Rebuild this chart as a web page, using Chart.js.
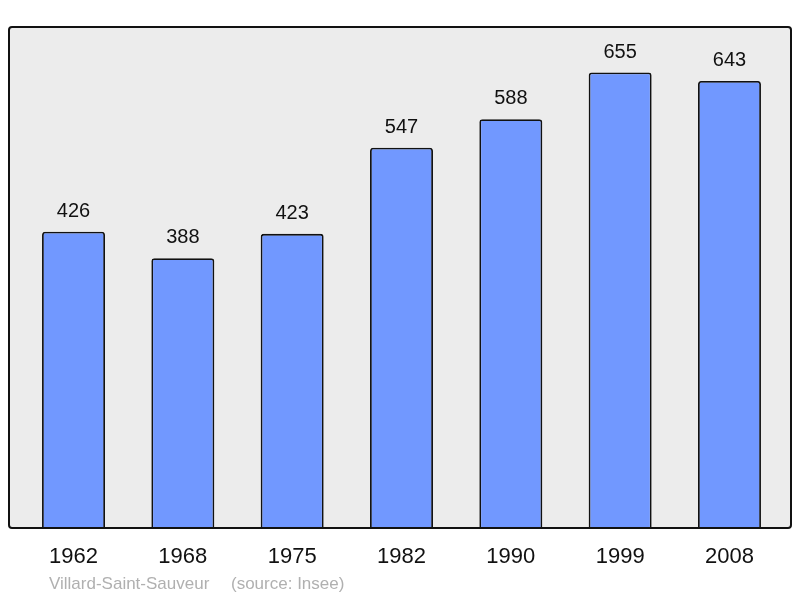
<!DOCTYPE html>
<html>
<head>
<meta charset="utf-8">
<script src="https://cdn.jsdelivr.net/npm/chart.js@4/dist/chart.umd.min.js"></script>
<style>
  html, body { margin: 0; padding: 0; background: #fff; }
  #wrap { width: 800px; height: 598px; }
</style>
</head>
<body>
<div id="wrap"><canvas id="chart" width="800" height="598"></canvas></div>
<script>
// Population per census year (Villard-Saint-Sauveur, Insee)
const years = ['1962', '1968', '1975', '1982', '1990', '1999', '2008'];
const population = [426, 388, 423, 547, 588, 655, 643];
const placeName = 'Villard-Saint-Sauveur';
const sourceNote = '(source: Insee)';

const FONT = '"Liberation Sans", Arial, sans-serif';

// grey framed panel behind the bars, plus labels drawn with the scales
const panelPlugin = {
    id: 'panel',
    beforeDraw(chart) {
        const ctx = chart.ctx;
        ctx.save();
        ctx.beginPath();
        ctx.roundRect(9, 27, 782, 501, 3);
        ctx.fillStyle = '#ececec';
        ctx.fill();
        ctx.restore();
    },
    afterDatasetsDraw(chart) {
        const ctx = chart.ctx;
        const x = chart.scales.x;
        const y = chart.scales.y;
        ctx.save();
        ctx.beginPath();
        ctx.roundRect(9, 27, 782, 501, 3);
        ctx.lineWidth = 2;
        ctx.strokeStyle = '#111';
        ctx.stroke();

        ctx.textAlign = 'center';
        ctx.textBaseline = 'middle';
        ctx.fillStyle = '#111';
        ctx.font = '20px ' + FONT;
        population.forEach((v, i) => {
            ctx.fillText(String(v), x.getPixelForValue(i), y.getPixelForValue(v) - 20.5);
        });
        ctx.font = '22px ' + FONT;
        years.forEach((yr, i) => {
            ctx.fillText(yr, x.getPixelForValue(i), 557);
        });

        ctx.textAlign = 'left';
        ctx.fillStyle = '#b0b0b0';
        ctx.font = '17px ' + FONT;
        ctx.fillText(placeName, 49, 584);
        ctx.fillText(sourceNote, 231, 584);
        ctx.restore();
    },
};

new Chart(document.getElementById('chart').getContext('2d'), {
    type: 'bar',
    data: {
        labels: years,
        datasets: [{
            data: population,
            backgroundColor: '#7198ff',
            borderColor: '#111',
            borderWidth: 1.8,
            borderRadius: 3,
            barPercentage: 0.576,
            categoryPercentage: 1,
        }],
    },
    options: {
        responsive: false,
        animation: false,
        layout: { padding: { left: 18.85, right: 15.85, top: 27, bottom: 70 } },
        scales: {
            x: { display: false },
            y: { display: false, min: 0, max: 720.5 },
        },
        plugins: {
            legend: { display: false },
            tooltip: { enabled: false },
        },
    },
    plugins: [panelPlugin],
});
</script>
</body>
</html>
